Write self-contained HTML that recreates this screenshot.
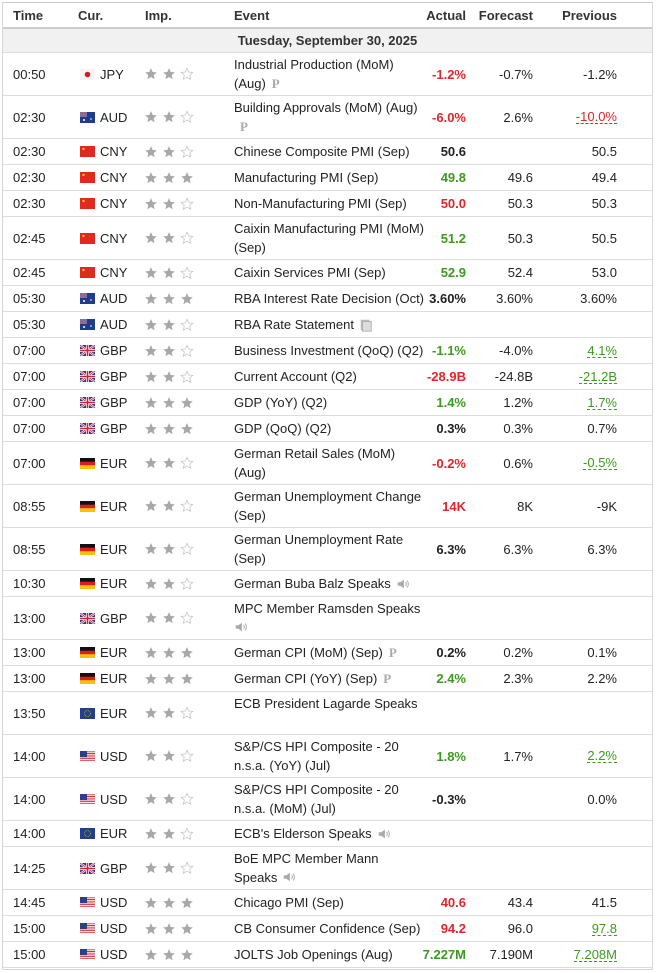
<!DOCTYPE html>
<html><head><meta charset="utf-8"><style>
*{margin:0;padding:0;box-sizing:border-box}
body{width:658px;height:973px;background:#fff;font-family:"Liberation Sans",Arial,sans-serif;font-size:13px;color:#222;position:relative;overflow:hidden}
.wrap{position:absolute;left:2px;top:2px;width:651px;height:968px;border:1px solid #d6d6d6;border-top:1px solid #ccc}
.r{position:absolute;left:0;width:649px;border-bottom:1px solid #dcdcdc}
.r>div{position:absolute;top:0;height:100%;display:flex;align-items:center;white-space:nowrap}
.h{font-weight:bold;color:#333;border-bottom:2px solid #ccc}
.t{left:10px}.fl{left:77px}.cu{left:97px}.st{left:141px;gap:4px}
.ev{left:231px;line-height:19px;white-space:normal}
.ac{right:186px;justify-content:flex-end;font-weight:bold}
.fc{right:119px;justify-content:flex-end}
.pv{right:35px;justify-content:flex-end}
.red{color:#e0252b}.grn{color:#3c9a1e}
.ured{color:#e0252b;border-bottom:1px dashed #e0252b;line-height:13px}
.ugrn{color:#3c9a1e;border-bottom:1px dashed #3c9a1e;line-height:13px}
.s{display:inline-block;width:14px;height:14px}
.P{font-family:"Liberation Serif",serif;font-weight:bold;color:#aaa;font-size:13px;margin-left:6px}
.flag{display:block;width:15px;height:11px;overflow:hidden}
</style></head><body><div class="wrap">
<svg width="0" height="0" style="position:absolute"><defs>
<symbol id="sf" viewBox="0 0 24 24"><path d="M12 2l2.9 6.6 7.1.6-5.4 4.7 1.6 7-6.2-3.7-6.2 3.7 1.6-7L2 9.2l7.1-.6z" fill="#a8a8a8"/></symbol>
<symbol id="se" viewBox="0 0 24 24"><path d="M12 2l2.9 6.6 7.1.6-5.4 4.7 1.6 7-6.2-3.7-6.2 3.7 1.6-7L2 9.2l7.1-.6z" fill="none" stroke="#c4c4c4" stroke-width="1.3"/></symbol>
<symbol id="JPY" viewBox="0 0 15 11"><rect width="15" height="11" fill="#f4f4f4"/><circle cx="7.5" cy="5.5" r="2.8" fill="#d01c2a"/></symbol>
<symbol id="AUD" viewBox="0 0 15 11"><rect width="15" height="11" fill="#1f3b8c"/><rect width="7" height="5" fill="#8c6d9a"/><circle cx="11" cy="7" r=".8" fill="#fff"/><circle cx="4" cy="8" r="1" fill="#fff"/></symbol>
<symbol id="CNY" viewBox="0 0 15 11"><rect width="15" height="11" fill="#e02a1f"/><circle cx="3.5" cy="3" r="1.2" fill="#f7d000"/></symbol>
<symbol id="GBP" viewBox="0 0 15 11"><rect width="15" height="11" fill="#2a3c8a"/><path d="M0 0L15 11M15 0L0 11" stroke="#fff" stroke-width="2.2"/><path d="M0 0L15 11M15 0L0 11" stroke="#c9233b" stroke-width=".8"/><path d="M7.5 0V11M0 5.5H15" stroke="#fff" stroke-width="3"/><path d="M7.5 0V11M0 5.5H15" stroke="#c9233b" stroke-width="1.6"/></symbol>
<symbol id="DE" viewBox="0 0 15 11"><rect width="15" height="4" fill="#111"/><rect y="3.7" width="15" height="3.7" fill="#dd1e1e"/><rect y="7.3" width="15" height="3.7" fill="#f5c400"/></symbol>
<symbol id="EU" viewBox="0 0 15 11"><rect width="15" height="11" fill="#23408f"/><circle cx="7.5" cy="5.5" r="3" fill="none" stroke="#e8c500" stroke-width=".7" stroke-dasharray=".8 .8"/></symbol>
<symbol id="USD" viewBox="0 0 15 11"><rect width="15" height="11" fill="#fff"/><path d="M0 .8H15M0 2.5H15M0 4.2H15M0 5.9H15M0 7.6H15M0 9.3H15" stroke="#d0323a" stroke-width=".9"/><rect width="7" height="6" fill="#2e3f86"/></symbol>
<symbol id="spk" viewBox="0 0 16 16"><path d="M2 6h3l4-3v10l-4-3H2z" fill="#aaa"/><path d="M11 5.5q1.5 2.5 0 5M12.8 4q2.6 4 0 8" stroke="#aaa" fill="none" stroke-width="1.1"/></symbol>
<symbol id="doc" viewBox="0 0 16 16"><rect x="2" y="2" width="10" height="12" fill="#bbb"/><rect x="4" y="4" width="10" height="11" fill="#ddd" stroke="#aaa"/></symbol>
</defs></svg>
<div class="r h" style="top:0;height:26px"><div class="t">Time</div><div class="cu" style="left:75px">Cur.</div><div class="st" style="left:142px">Imp.</div><div class="ev">Event</div><div class="ac">Actual</div><div class="fc">Forecast</div><div class="pv">Previous</div></div>
<div class="r" style="top:26px;height:24px;background:#f1f1f1"><div style="left:0;width:649px;justify-content:center;font-weight:bold;color:#333">Tuesday, September 30, 2025</div></div>
<div id="rows"></div>
</div>
<script>
var S='<svg class="s"><use href="#sf"/></svg>',E='<svg class="s"><use href="#se"/></svg>';
var P='<span class="P">P</span>',SP='<svg width="14" height="14" style="margin-left:5px;vertical-align:-2px"><use href="#spk"/></svg>',DC='<svg width="14" height="14" style="margin-left:5px;vertical-align:-2px"><use href="#doc"/></svg>';
var D=[
["00:50","JPY","JPY",2,"Industrial Production (MoM)<br>(Aug)"+P,"-1.2%","red","-0.7%","-1.2%",""],
["02:30","AUD","AUD",2,"Building Approvals (MoM) (Aug)<br>"+P,"-6.0%","red","2.6%","-10.0%","ured"],
["02:30","CNY","CNY",2,"Chinese Composite PMI (Sep)","50.6","","","50.5",""],
["02:30","CNY","CNY",3,"Manufacturing PMI (Sep)","49.8","grn","49.6","49.4",""],
["02:30","CNY","CNY",2,"Non-Manufacturing PMI (Sep)","50.0","red","50.3","50.3",""],
["02:45","CNY","CNY",2,"Caixin Manufacturing PMI (MoM)<br>(Sep)","51.2","grn","50.3","50.5",""],
["02:45","CNY","CNY",2,"Caixin Services PMI (Sep)","52.9","grn","52.4","53.0",""],
["05:30","AUD","AUD",3,"RBA Interest Rate Decision (Oct)","3.60%","","3.60%","3.60%",""],
["05:30","AUD","AUD",2,"RBA Rate Statement"+DC,"","","","",""],
["07:00","GBP","GBP",2,"Business Investment (QoQ) (Q2)","-1.1%","grn","-4.0%","4.1%","ugrn"],
["07:00","GBP","GBP",2,"Current Account (Q2)","-28.9B","red","-24.8B","-21.2B","ugrn"],
["07:00","GBP","GBP",3,"GDP (YoY) (Q2)","1.4%","grn","1.2%","1.7%","ugrn"],
["07:00","GBP","GBP",3,"GDP (QoQ) (Q2)","0.3%","","0.3%","0.7%",""],
["07:00","EUR","DE",2,"German Retail Sales (MoM)<br>(Aug)","-0.2%","red","0.6%","-0.5%","ugrn"],
["08:55","EUR","DE",2,"German Unemployment Change<br>(Sep)","14K","red","8K","-9K",""],
["08:55","EUR","DE",2,"German Unemployment Rate<br>(Sep)","6.3%","","6.3%","6.3%",""],
["10:30","EUR","DE",2,"German Buba Balz Speaks"+SP,"","","","",""],
["13:00","GBP","GBP",2,"MPC Member Ramsden Speaks<br>"+SP.replace('margin-left:5px','margin-left:0'),"","","","",""],
["13:00","EUR","DE",3,"German CPI (MoM) (Sep)"+P,"0.2%","","0.2%","0.1%",""],
["13:00","EUR","DE",3,"German CPI (YoY) (Sep)"+P,"2.4%","grn","2.3%","2.2%",""],
["13:50","EUR","EU",2,"ECB President Lagarde Speaks<br>&nbsp;","","","","",""],
["14:00","USD","USD",2,"S&amp;P/CS HPI Composite - 20<br>n.s.a. (YoY) (Jul)","1.8%","grn","1.7%","2.2%","ugrn"],
["14:00","USD","USD",2,"S&amp;P/CS HPI Composite - 20<br>n.s.a. (MoM) (Jul)","-0.3%","","","0.0%",""],
["14:00","EUR","EU",2,"ECB's Elderson Speaks"+SP,"","","","",""],
["14:25","GBP","GBP",2,"BoE MPC Member Mann<br>Speaks"+SP,"","","","",""],
["14:45","USD","USD",3,"Chicago PMI (Sep)","40.6","red","43.4","41.5",""],
["15:00","USD","USD",3,"CB Consumer Confidence (Sep)","94.2","red","96.0","97.8","ugrn"],
["15:00","USD","USD",3,"JOLTS Job Openings (Aug)","7.227M","grn","7.190M","7.208M","ugrn"]];
var h='',y=50;
D.forEach(function(d){var two=d[4].indexOf('<br>')>=0,H=two?43:26;
var st='';for(var i=0;i<3;i++)st+=i<d[3]?S:E;
h+='<div class="r" style="top:'+y+'px;height:'+H+'px"><div class="t">'+d[0]+'</div><div class="fl"><svg class="flag"><use href="#'+d[2]+'"/></svg></div><div class="cu">'+d[1]+'</div><div class="st">'+st+'</div><div class="ev">'+(two?'<div>'+d[4]+'</div>':d[4])+'</div><div class="ac '+d[6]+'">'+d[5]+'</div><div class="fc">'+d[7]+'</div><div class="pv"><span class="'+d[9]+'">'+d[8]+'</span></div></div>';
y+=H;});
document.getElementById('rows').outerHTML=h;
</script>
</body></html>
